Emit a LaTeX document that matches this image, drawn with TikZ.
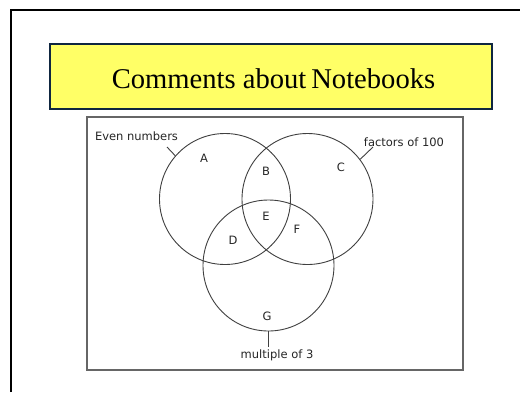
\documentclass[tikz,border=0pt]{standalone}
\usepackage{fontspec}
\setmainfont{Liberation Serif}
\newfontfamily\lblfont{DejaVu Sans}
\begin{document}
\begin{tikzpicture}[x=1pt,y=-1pt,
  setcircle/.style={circle,draw=black!75,line width=0.9pt,minimum size=131pt,inner sep=0pt},
  region/.style={font=\lblfont\fontsize{11.5}{13}\selectfont,inner sep=0pt,text=black!85},
  leader/.style={draw=black!75,line width=0.9pt},
  titlebox/.style={draw={rgb,255:red,15;green,38;blue,64},line width=1.6pt,fill={rgb,255:red,255;green,255;blue,102},minimum width=442pt,minimum height=65pt,inner sep=0pt},
  panel/.style={draw=black!60,line width=1.4pt,minimum width=376pt,minimum height=253pt,inner sep=0pt}]
\useasboundingbox (0,0) rectangle (520,392);
\fill[white] (0,0) rectangle (520,392);
% outer frame
\draw[line width=2pt,black] (11,392) -- (11,10) -- (520,10);
% title
\node[titlebox] (title) at (271,76.5) {};
\node[anchor=base,font=\fontsize{28.6}{30}\selectfont,inner sep=0pt] (titletext) at (273.5,88.3) {Comments about\kern-0.08em\ Notebooks};
% panel
\node[panel] (panel) at (275,243.5) {};
% circles
\node[setcircle] (cA) at (225,199) {};
\node[setcircle] (cC) at (307.5,199) {};
\node[setcircle] (cG) at (268.5,265.5) {};
% region labels
\node[region] (A) at (204,158) {A};
\node[region] (B) at (266,171) {B};
\node[region] (C) at (341,167) {C};
\node[region] (E) at (266,216) {E};
\node[region] (D) at (233,240) {D};
\node[region] (F) at (297,229) {F};
\node[region] (G) at (267,316) {G};
% set labels
\node[region] (even) at (136.5,136) {Even numbers};
\node[region] (fact) at (404,142) {factors of 100};
\node[region] (mult) at (277,355) {multiple of 3};
\coordinate (evenend) at (167,147);
\coordinate (factend) at (373,147);
\coordinate (multend) at (268.5,347);
\draw[leader] (evenend) -- (cA.139);
\draw[leader] (factend) -- (cC.37);
\draw[leader] (multend) -- (cG.south);
\end{tikzpicture}
\end{document}
